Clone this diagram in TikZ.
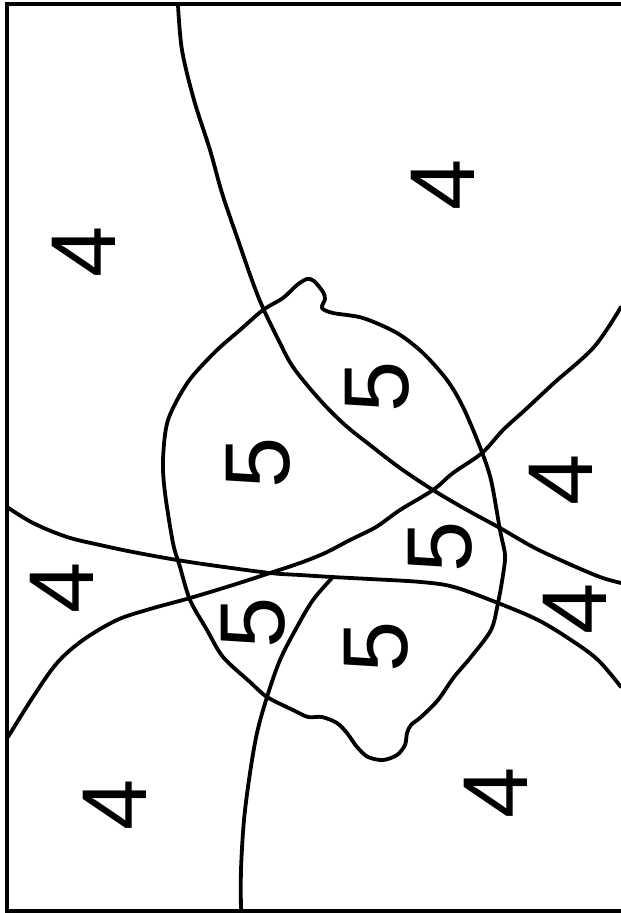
\documentclass[tikz,border=0pt]{standalone}
\usepackage{fontspec}
\setmainfont{Liberation Sans}
\begin{document}
\begin{tikzpicture}[x=1pt,y=-1pt,
  curve/.style={line width=3.8pt,line join=round,line cap=round},
  frame/.style={line width=3.4pt},
  digit/.style={inner sep=0pt,rotate=90,font=\fontsize{92}{92}\selectfont}]
\useasboundingbox (0,0) rectangle (621,913);
% frame
\draw[frame] (621,4) -- (7,4) -- (7,911) -- (621,911);
% curve A
\draw[curve] plot[smooth,tension=0.55] coordinates {(178,5) (182,50) (194,100) (210,150) (222,193) (238,240) (253,283) (263,308) (277,337) (293,367) (320,400) (345,425) (370,445) (400,468) (433,490) (467,510) (500,528) (533,547) (567,563) (600,577) (621,583)};
% curve B
\draw[curve] plot[smooth,tension=0.55] coordinates {(621,307) (594,347) (554,383) (525,410) (503,430) (482,453) (453,473) (433,490) (400,510) (376,527) (350,540) (325,553) (300,563) (270,573) (233,585) (190,598) (150,609) (117,620) (83,640) (57,663) (33,697) (8,737)};
% curve C
\draw[curve] plot[smooth,tension=0.55] coordinates {(7,507) (33,523) (67,537) (100,545) (133,552) (177,560) (217,566) (270,573) (300,575) (332,577) (370,579) (421,582) (454,587) (498,603) (538,620) (571,640) (598,660) (621,687)};
% curve D
\draw[curve] plot[smooth,tension=0.55] coordinates {(332,578) (313,600) (297,627) (280,660) (267,697) (257,733) (250,773) (244,820) (241,870) (241,912)};
% blob
\draw[curve] plot[smooth cycle,tension=0.5] coordinates {(263,310) (283,298) (297,285) (307,279) (314,281) (323,292) (325,299) (322,308) (333,313) (363,318) (397,333) (423,353) (447,380) (463,407) (480,447) (491,480) (500,530) (505,555) (503,575) (498,603) (491,630) (471,657) (454,677) (438,700) (421,717) (411,725) (407,733) (405,745) (397,755) (383,760) (368,757) (357,747) (347,733) (337,723) (322,717) (308,717) (293,710) (267,697) (250,682) (223,657) (207,630) (190,600) (180,567) (173,543) (165,493) (163,460) (168,420) (188,382) (215,352) (240,330)};
% labels
\node[digit] (l1) at (84,252) {4};
\node[digit] (l2) at (443,185) {4};
\node[digit] (l3) at (377,387) {5};
\node[digit] (l4) at (258,463) {5};
\node[digit] (l5) at (561,480) {4};
\node[digit] (l6) at (440,547) {5};
\node[digit] (l7) at (62,588) {4};
\node[digit] (l8) at (575,609) {4};
\node[digit] (l9) at (253,623) {5};
\node[digit] (l10) at (376,647) {5};
\node[digit] (l11) at (115,805) {4};
\node[digit] (l12) at (496,793) {4};
\end{tikzpicture}
\end{document}
